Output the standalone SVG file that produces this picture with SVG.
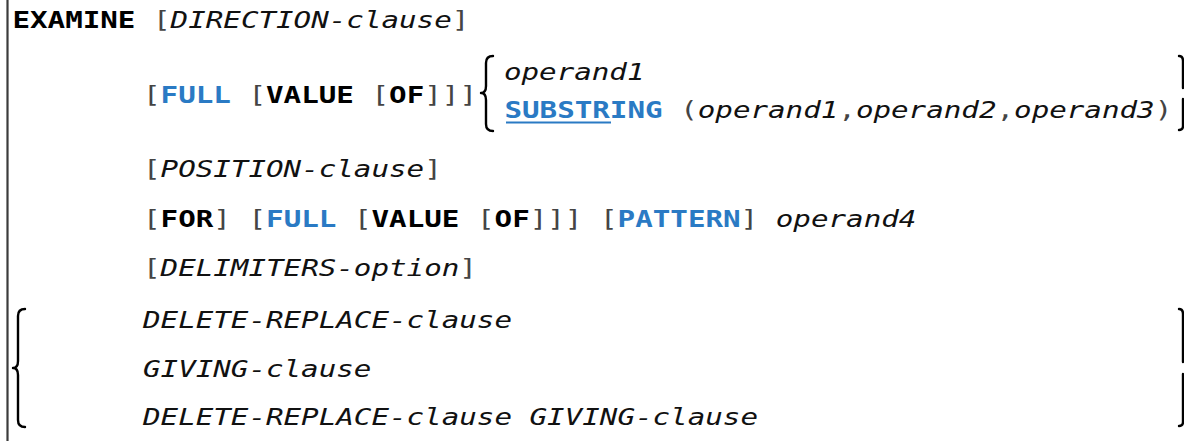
<svg xmlns="http://www.w3.org/2000/svg" width="1184" height="441" viewBox="0 0 1184 441">
<style>
.t{font-family:"DejaVu Sans Mono","Liberation Mono",monospace;font-size:23px;fill:#111}
.k{font-weight:bold;fill:#000}
.b{font-weight:bold;fill:#2a7ac4}
.i{font-style:italic;fill:#111}
.br{fill:#444}
.brace{fill:none;stroke:#000;stroke-width:2.4;stroke-linecap:round;stroke-linejoin:round}
</style>
<rect width="1184" height="441" fill="#fff"/>
<line x1="7.5" y1="0" x2="7.5" y2="441" stroke="#3c3c3c" stroke-width="2.2"/>
<g id="syntax" transform="scale(1.27,1)" xml:space="preserve">
<text id="l1" class="t" x="9.8" y="28"><tspan class="k">EXAMINE</tspan> <tspan class="br">[</tspan><tspan class="i">DIRECTION-clause</tspan><tspan class="br">]</tspan></text>
<text id="l2" class="t" x="112.6" y="103"><tspan class="br">[</tspan><tspan class="b">FULL</tspan> <tspan class="br">[</tspan><tspan class="k">VALUE</tspan> <tspan class="br">[</tspan><tspan class="k">OF</tspan><tspan class="br">]]]</tspan></text>
<text id="op1" class="t i" x="396.8" y="80">operand1</text>
<text id="sub" class="t" x="397.2" y="118"><tspan class="b">SUBSTRING</tspan> <tspan class="br">(</tspan><tspan class="i">operand1</tspan><tspan class="br">,</tspan><tspan class="i">operand2</tspan><tspan class="br">,</tspan><tspan class="i">operand3</tspan><tspan class="br">)</tspan></text>
<text id="l3" class="t" x="112.6" y="177"><tspan class="br">[</tspan><tspan class="i">POSITION-clause</tspan><tspan class="br">]</tspan></text>
<text id="l4" class="t" x="112.6" y="227"><tspan class="br">[</tspan><tspan class="k">FOR</tspan><tspan class="br">]</tspan> <tspan class="br">[</tspan><tspan class="b">FULL</tspan> <tspan class="br">[</tspan><tspan class="k">VALUE</tspan> <tspan class="br">[</tspan><tspan class="k">OF</tspan><tspan class="br">]]]</tspan> <tspan class="br">[</tspan><tspan class="b">PATTERN</tspan><tspan class="br">]</tspan> <tspan class="i">operand4</tspan></text>
<text id="l5" class="t" x="112.6" y="276"><tspan class="br">[</tspan><tspan class="i">DELIMITERS-option</tspan><tspan class="br">]</tspan></text>
<text id="l6" class="t i" x="112.6" y="328">DELETE-REPLACE-clause</text>
<text id="l7" class="t i" x="112.6" y="377">GIVING-clause</text>
<text id="l8" class="t i" x="112.6" y="425">DELETE-REPLACE-clause GIVING-clause</text>
</g>
<line id="substr-underline" x1="506" y1="122.5" x2="611" y2="122.5" stroke="#2a7ac4" stroke-width="2"/>
<g id="braces">
<path class="brace" d="M493,56 Q486,56 486,63 V86 Q486,93 481,93 Q486,93 486,100 V124 Q486,131 493,131"/>
<path class="brace" d="M1179,56 Q1183,56 1183,61 V88 M1183,99 V126 Q1183,130 1179,130"/>
<path class="brace" d="M25,309 Q18,309 18,316 V361 Q18,368 13,368 Q18,368 18,375 V420 Q18,427 25,427"/>
<path class="brace" d="M1179,309 Q1183,309 1183,314 V362 M1183,374 V422 Q1183,426 1179,426"/>
</g>
</svg>
